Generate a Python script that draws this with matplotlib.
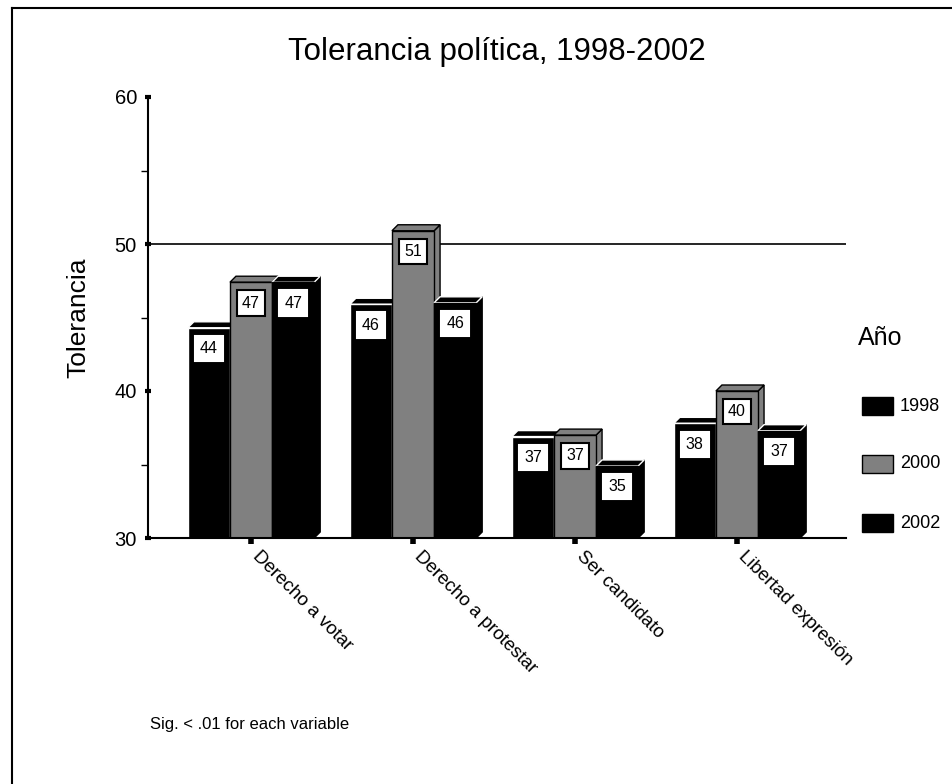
import matplotlib
matplotlib.use("Agg")
import matplotlib.pyplot as plt
from matplotlib.patches import Polygon, Rectangle
from matplotlib.lines import Line2D
from matplotlib.ticker import MultipleLocator
from matplotlib.transforms import ScaledTranslation
import numpy as np

plt.rcParams['font.family'] = ['Liberation Sans', 'DejaVu Sans']

categories = ["Derecho a votar", "Derecho a protestar", "Ser candidato", "Libertad expresión"]
years = ["1998", "2000", "2002"]
vals_1998 = [44.3, 45.9, 36.9, 37.8]
vals_2000 = [47.4, 50.9, 37.0, 40.0]
vals_2002 = [47.4, 46.0, 34.9, 37.3]
series = [vals_1998, vals_2000, vals_2002]
face_colors = ["black", "#808080", "black"]
front_edges = ["white", "black", "black"]
top_edges = ["white", "black", "white"]
label_edges = ["white", "black", "white"]

W, H = 953, 784
fig = plt.figure(figsize=(W / 100, H / 100), dpi=100)
ax = fig.add_axes([148 / W, 1 - 538 / H, (846 - 148) / W, (538 - 97) / H])

ax.set_xlim(-0.636, 3.673)
ax.set_ylim(30, 60)

w = 0.26
dx = 6 / 162.0
dy = 6 / 14.7
x = np.arange(len(categories))

for gi in range(len(categories)):
    for si, vals in enumerate(series):
        xc = x[gi] + (si - 1) * w
        x0, x1 = xc - w / 2, xc + w / 2
        v = vals[gi]
        fc = face_colors[si]
        z = 2 + gi * 3 + si
        # side face
        ax.add_patch(Polygon([(x1, 30), (x1 + dx, 30 + dy), (x1 + dx, v + dy), (x1, v)],
                             closed=True, fc=fc, ec="black", lw=1, zorder=z))
        # top face
        ax.add_patch(Polygon([(x0, v), (x0 + dx, v + dy), (x1 + dx, v + dy), (x1, v)],
                             closed=True, fc=fc, ec=top_edges[si], lw=1, zorder=z))
        # front face
        ax.bar(xc, v - 30, bottom=30, width=w, color=fc, edgecolor=front_edges[si],
               linewidth=1, zorder=z)
        ax.annotate(f"{round(v)}", xy=(xc, v), xytext=(0, -15), textcoords="offset points",
                    ha="center", va="center", fontsize=11.5, zorder=40,
                    bbox=dict(boxstyle="square,pad=0.32", fc="white", ec=label_edges[si], lw=1.5))

ax.axhline(50, color="black", lw=1.2, zorder=1)

for s in ["top", "right"]:
    ax.spines[s].set_visible(False)
for s in ["left", "bottom"]:
    ax.spines[s].set_linewidth(1.5)
    ax.spines[s].set_zorder(50)

ax.yaxis.set_major_locator(MultipleLocator(10))
ax.yaxis.set_minor_locator(MultipleLocator(5))
ax.tick_params(axis="y", which="major", length=4, width=3, direction="inout", labelsize=14.5, pad=6)
ax.tick_params(axis="y", which="minor", length=5, width=1, direction="out")
ax.set_xticks(x)
ax.set_xticklabels(categories, rotation=-45, ha="left", va="top", rotation_mode="anchor", fontsize=13.5)
ax.tick_params(axis="x", length=4, width=4, direction="out", pad=3)
shift = ScaledTranslation(10 / 100, 0, fig.dpi_scale_trans)
for lbl in ax.get_xticklabels():
    lbl.set_transform(lbl.get_transform() + shift)

ax.set_ylabel("Tolerancia", fontsize=19)
ax.yaxis.set_label_coords(-0.082, 0.5)

fig.text(497 / W, 1 - 52 / H, "Tolerancia política, 1998-2002", ha="center", va="center", fontsize=22.5)

# legend
fig.text(858 / W, 1 - 338 / H, "Año", ha="left", va="center", fontsize=18)
legend_y = [406, 464, 523]
for yr, col, ly in zip(years, face_colors, legend_y):
    fig.patches.append(Rectangle((862 / W, 1 - (ly + 9) / H), 31 / W, 18 / H, fc=col, ec="black",
                                 lw=1, transform=fig.transFigure, figure=fig))
    fig.text(900 / W, 1 - ly / H, yr, ha="left", va="center", fontsize=13)

fig.text(150 / W, 1 - 725 / H, "Sig. < .01 for each variable", ha="left", va="center", fontsize=12)

# frame lines
fig.add_artist(Line2D([12 / W, 12 / W], [0, 1 - 8 / H], color="black", lw=1.5, transform=fig.transFigure))
fig.add_artist(Line2D([12 / W, 1], [1 - 8 / H, 1 - 8 / H], color="black", lw=1.5, transform=fig.transFigure))

fig.savefig("out.png", dpi=100, facecolor="white")
